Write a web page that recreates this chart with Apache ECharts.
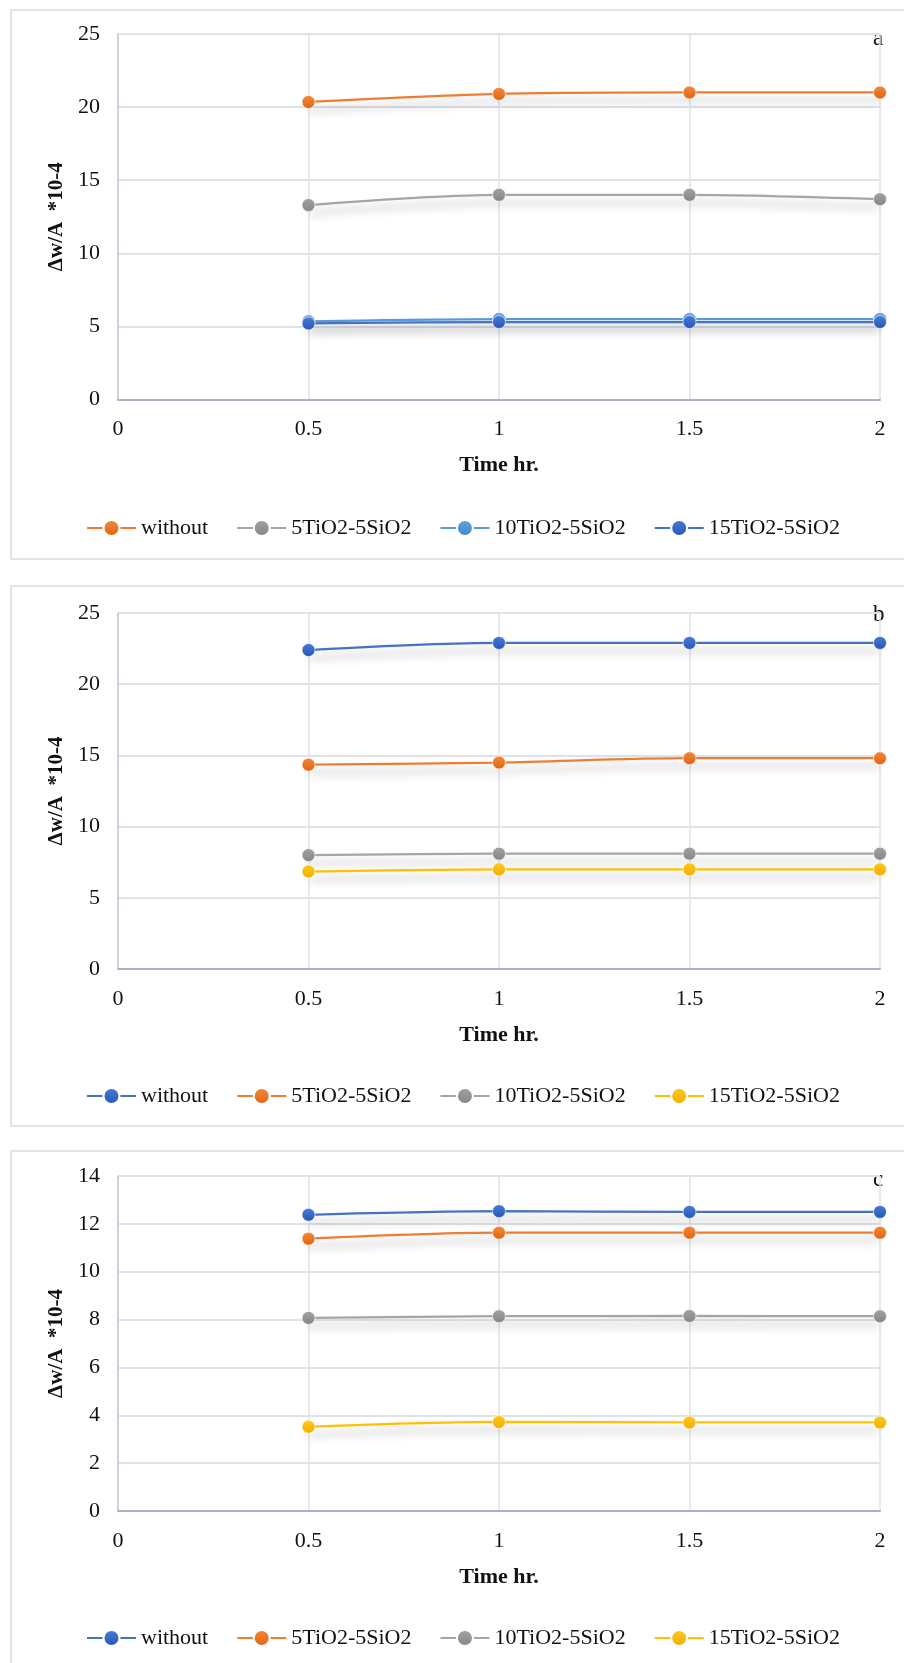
<!DOCTYPE html>
<html>
<head>
<meta charset="utf-8">
<script src="https://cdn.jsdelivr.net/npm/echarts@6/dist/echarts.min.js"></script>
<style>
  html, body { margin: 0; padding: 0; background: #fff; width: 904px; height: 1663px; overflow: hidden; position: relative; }
  .panel { position: absolute; left: 10px; width: 905px; border: 2px solid #e1e4ea; box-sizing: border-box; }
  .chart { position: absolute; left: 0; top: 0; width: 901px; height: 100%; }
</style>
</head>
<body>
<div class="panel" style="top:9px;height:551px"><div id="chartA" class="chart"></div></div>
<div class="panel" style="top:585px;height:542px"><div id="chartB" class="chart"></div></div>
<div class="panel" style="top:1150px;height:540px"><div id="chartC" class="chart"></div></div>
<script>
// time axis values (hr)
const timeHr = [0.5, 1, 1.5, 2];
const seriesNames = ['without', '5TiO2-5SiO2', '10TiO2-5SiO2', '15TiO2-5SiO2'];

// panel a
const aWithout = [20.35, 20.9, 21.0, 21.0];
const a5TiO2 = [13.3, 14.0, 14.0, 13.7];
const a10TiO2 = [5.35, 5.5, 5.5, 5.5];
const a15TiO2 = [5.2, 5.3, 5.3, 5.3];

// panel b
const bWithout = [22.4, 22.9, 22.9, 22.9];
const b5TiO2 = [14.35, 14.5, 14.8, 14.8];
const b10TiO2 = [8.0, 8.1, 8.1, 8.1];
const b15TiO2 = [6.85, 7.0, 7.0, 7.0];

// panel c
const cWithout = [12.38, 12.53, 12.5, 12.5];
const c5TiO2 = [11.38, 11.63, 11.63, 11.63];
const c10TiO2 = [8.07, 8.14, 8.15, 8.14];
const c15TiO2 = [3.52, 3.72, 3.7, 3.7];

const FONT = '"Liberation Serif", "Times New Roman", serif';

// excel-ish colours: [line, marker top, marker bottom]
const ORANGE = ['#ED7D31', '#F58A3C', '#DD6412'];
const GRAY = ['#A5A5A5', '#A3A3A3', '#858585'];
const LBLUE = ['#5B9BD5', '#64A6E0', '#3D86CC'];
const DBLUE = ['#4472C4', '#4A7CD6', '#2656B8'];
const YELLOW = ['#FFC000', '#FFCA1A', '#EDAF00'];

function lineSeries(name, values, col) {
  return {
    name: name,
    type: 'line',
    data: values.map((v, i) => [timeHr[i], v]),
    smooth: 0.3,
    symbol: 'circle',
    symbolSize: 13,
    lineStyle: {
      color: col[0],
      width: 2.25,
      shadowColor: 'rgba(0,0,0,0.33)',
      shadowBlur: 10,
      shadowOffsetY: 8
    },
    itemStyle: {
      color: new echarts.graphic.LinearGradient(0, 0, 0, 1, [
        { offset: 0, color: col[1] },
        { offset: 1, color: col[2] }
      ]),
      borderColor: '#ffffff',
      borderWidth: 0.6
    },
    emphasis: { disabled: true }
  };
}

function makePanel(el, letter, yMax, yInterval, grid, legendTop, series) {
  const chart = echarts.init(document.getElementById(el), null, { renderer: 'canvas' });
  chart.setOption({
    animation: false,
    textStyle: { fontFamily: FONT },
    grid: grid,
    legend: {
      top: legendTop,
      left: 69,
      itemWidth: 49,
      itemHeight: 20,
      itemGap: 28,
      textStyle: { fontFamily: FONT, fontSize: 22, color: '#111' },
      data: seriesNames
    },
    graphic: [{
      type: 'text',
      left: grid.left + grid.width - 7,
      top: 16,
      style: { text: letter, font: '23px ' + FONT, fill: '#111' }
    }],
    xAxis: {
      type: 'value',
      min: 0,
      max: 2,
      interval: 0.5,
      name: 'Time hr.',
      nameLocation: 'middle',
      nameGap: 55,
      nameTextStyle: { fontFamily: FONT, fontSize: 22, fontWeight: 'bold', color: '#111' },
      axisLine: { show: true, lineStyle: { color: '#aab3c4', width: 2 } },
      axisTick: { show: false },
      axisLabel: { fontFamily: FONT, fontSize: 22, color: '#111', margin: 19 },
      splitLine: { show: true, lineStyle: { color: '#dfe2e8', width: 1.5 } }
    },
    yAxis: {
      type: 'value',
      min: 0,
      max: yMax,
      interval: yInterval,
      name: 'Δw/A  *10-4',
      nameLocation: 'middle',
      nameGap: 49,
      nameTextStyle: { fontFamily: FONT, fontSize: 21, fontWeight: 'bold', color: '#111' },
      axisLine: { show: true, lineStyle: { color: '#c5cbd6', width: 1.5 } },
      axisTick: { show: false },
      axisLabel: { fontFamily: FONT, fontSize: 22, color: '#111', margin: 18 },
      splitLine: { show: true, lineStyle: { color: '#dfe2e8', width: 2 } }
    },
    series: series
  });
}

makePanel('chartA', 'a', 25, 5,
  { left: 106, top: 23, width: 762, height: 365.5 }, 501, [
    lineSeries(seriesNames[0], aWithout, ORANGE),
    lineSeries(seriesNames[1], a5TiO2, GRAY),
    lineSeries(seriesNames[2], a10TiO2, LBLUE),
    lineSeries(seriesNames[3], a15TiO2, DBLUE)
  ]);

makePanel('chartB', 'b', 25, 5,
  { left: 106, top: 26, width: 762, height: 356 }, 493, [
    lineSeries(seriesNames[0], bWithout, DBLUE),
    lineSeries(seriesNames[1], b5TiO2, ORANGE),
    lineSeries(seriesNames[2], b10TiO2, GRAY),
    lineSeries(seriesNames[3], b15TiO2, YELLOW)
  ]);

makePanel('chartC', 'c', 14, 2,
  { left: 106, top: 24, width: 762, height: 335 }, 470, [
    lineSeries(seriesNames[0], cWithout, DBLUE),
    lineSeries(seriesNames[1], c5TiO2, ORANGE),
    lineSeries(seriesNames[2], c10TiO2, GRAY),
    lineSeries(seriesNames[3], c15TiO2, YELLOW)
  ]);
</script>
</body>
</html>
